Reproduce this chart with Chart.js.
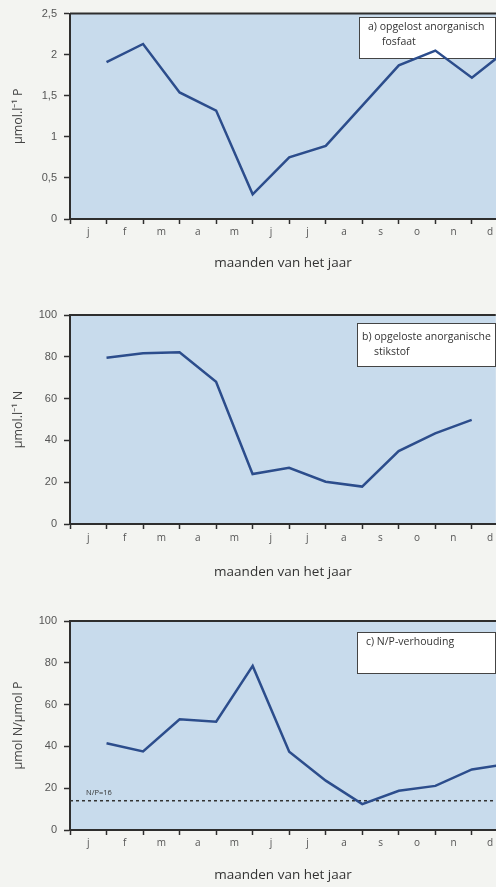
<!DOCTYPE html>
<html>
<head>
<meta charset="utf-8">
<script src="https://cdn.jsdelivr.net/npm/chart.js@4.4.0/dist/chart.umd.min.js"></script>
<style>
html,body{margin:0;padding:0;background:#f3f4f1;width:496px;height:887px;overflow:hidden}
.wrap{position:absolute;left:0;width:496px}
canvas{display:block}
</style>
</head>
<body>
<div class="wrap" style="top:0px;height:285px"><canvas id="c1" width="496" height="285"></canvas></div>
<div class="wrap" style="top:295px;height:295px"><canvas id="c2" width="496" height="295"></canvas></div>
<div class="wrap" style="top:600px;height:287px"><canvas id="c3" width="496" height="287"></canvas></div>
<script>
// ---- data ----
const months = ['j','f','m','a','m','j','j','a','s','o','n','d'];
const sampleMonth = [1,2,3,4,5,6,7,8,9,10,11,12];           // samples at month boundaries
const phosphate = [1.91, 2.13, 1.54, 1.32, 0.30, 0.75, 0.89, 1.38, 1.87, 2.05, 1.72, 2.07]; // µmol/l P
const nitrogen  = [79.6, 81.7, 82.2, 68.1, 23.9, 26.9, 20.2, 17.9, 34.9, 43.4, 49.8];      // µmol/l N
const npRatio   = [41.5, 37.6, 53.0, 51.8, 78.5, 37.5, 23.6, 12.4, 18.8, 21.1, 29.0, 31.7]; // N/P
const npRefLevel = 14;      // dashed "N/P=16" reference line as drawn
const pTicks = [0, 0.5, 1, 1.5, 2, 2.5];
const nTicks = [0, 20, 40, 60, 80, 100];
const ratioTicks = [0, 20, 40, 60, 80, 100];
const xTitleText = 'maanden van het jaar';

// ---- styling ----
const PLOT_BG = '#c8dbec';
const LINE = '#2c4d8c';
const AXIS = '#2e2e2e';
const FONT = "'Open Sans', sans-serif";
const X_MAX = 11.66;

const xTickPositions = months.flatMap((m, i) => [i, i + 0.5]);

const framePlugin = {
  id: 'frame',
  beforeDraw(chart, args, opts) {
    const {ctx, chartArea: a} = chart;
    ctx.save();
    ctx.fillStyle = PLOT_BG;
    ctx.fillRect(a.left, a.top, a.right - a.left, a.bottom - a.top);
    ctx.restore();
  },
  beforeDatasetsDraw(chart, args, opts) {
    const {ctx, chartArea: a} = chart;
    ctx.save();
    ctx.strokeStyle = AXIS;
    ctx.lineWidth = 2;
    ctx.beginPath();
    ctx.moveTo(a.left, a.top);
    ctx.lineTo(a.right, a.top);
    ctx.stroke();
    const b = opts.box;
    if (b) {
      ctx.fillStyle = '#ffffff';
      ctx.fillRect(b.x, b.y, b.w, b.h);
      ctx.strokeStyle = '#444';
      ctx.lineWidth = 1;
      ctx.strokeRect(b.x + 0.5, b.y + 0.5, b.w, b.h);
      ctx.fillStyle = '#333';
      ctx.font = "10.5px " + FONT;
      ctx.textBaseline = 'middle';
      ctx.textAlign = 'left';
      b.lines.forEach(l => ctx.fillText(l.t, l.x, l.y));
    }
    if (opts.note) {
      ctx.fillStyle = '#333';
      ctx.font = "7.5px " + FONT;
      ctx.textBaseline = 'middle';
      ctx.textAlign = 'left';
      ctx.fillText(opts.note.t, opts.note.x, opts.note.y);
    }
    ctx.restore();
  }
};

function buildChart(id, c) {
  const datasets = [];
  if (c.refLevel !== undefined) {
    datasets.push({
      data: [{x: 0, y: c.refLevel}, {x: 12, y: c.refLevel}],
      borderColor: '#333', borderWidth: 1.5, borderDash: [3, 3],
      pointRadius: 0, order: 2
    });
  }
  datasets.push({
    data: c.series.map((v, i) => ({x: sampleMonth[i], y: v})),
    borderColor: LINE, borderWidth: 2.5, pointRadius: 0, tension: 0, order: 1
  });
  return new Chart(document.getElementById(id), {
    type: 'line',
    data: {datasets},
    plugins: [framePlugin],
    options: {
      responsive: false, animation: false, devicePixelRatio: 1,
      layout: {padding: {top: c.padTop, left: 0, right: 0, bottom: 0}},
      plugins: {legend: {display: false}, tooltip: {enabled: false},
        frame: {box: c.box, note: c.note}},
      scales: {
        x: {
          type: 'linear', min: 0, max: X_MAX,
          afterBuildTicks: s => { s.ticks = xTickPositions.map(v => ({value: v})); },
          afterFit: s => { s.height = c.xHeight; },
          grid: {drawOnChartArea: false, drawTicks: true, tickLength: 5, tickWidth: 1.5,
            tickColor: ctx => (ctx.tick && Number.isInteger(ctx.tick.value)) ? AXIS : 'rgba(0,0,0,0)'},
          border: {display: true, color: AXIS, width: 2},
          ticks: {autoSkip: false, maxRotation: 0, padding: c.xLabelPad, color: '#555',
            font: {family: FONT, size: 10},
            callback: v => Number.isInteger(v) ? '' : months[Math.floor(v)]},
          title: {display: true, text: xTitleText, color: '#333',
            font: {family: FONT, size: 13.5}, padding: {top: 0, bottom: c.xTitlePad}}
        },
        y: {
          min: 0, max: c.yTicks[c.yTicks.length - 1],
          afterBuildTicks: s => { s.ticks = c.yTicks.map(v => ({value: v})); },
          afterFit: s => { s.width = 70; },
          grid: {drawOnChartArea: false, drawTicks: true, tickLength: 6, tickWidth: 1.5, tickColor: AXIS},
          border: {display: true, color: AXIS, width: 2},
          ticks: {padding: 7, color: '#555', font: {family: "'Liberation Sans', Arial, sans-serif", size: 11},
            callback: v => String(v).replace('.', ',')},
          title: {display: true, text: c.yTitle, color: '#444',
            font: {family: FONT, size: 12.5}, padding: {top: 10.5, bottom: 0}}
        }
      }
    }
  });
}

buildChart('c1', {
  series: phosphate, yTicks: pTicks, yTitle: 'µmol.l⁻¹ P',
  padTop: 10, xHeight: 66, xLabelPad: 2, xTitlePad: 14,
  box: {x: 359, y: 17, w: 136, h: 41, lines: [
    {t: 'a) opgelost anorganisch', x: 368, y: 27},
    {t: 'fosfaat', x: 382, y: 42}]}
});
buildChart('c2', {
  series: nitrogen, yTicks: nTicks, yTitle: 'µmol.l⁻¹ N',
  padTop: 20, xHeight: 66, xLabelPad: 3, xTitlePad: 10,
  box: {x: 357, y: 28, w: 138, h: 43, lines: [
    {t: 'b) opgeloste anorganische', x: 362, y: 42},
    {t: 'stikstof', x: 374, y: 57}]}
});
buildChart('c3', {
  series: npRatio, yTicks: ratioTicks, yTitle: 'µmol N/µmol P',
  padTop: 21, xHeight: 57, xLabelPad: 2, xTitlePad: 4, refLevel: npRefLevel,
  box: {x: 357, y: 32, w: 138, h: 41, lines: [
    {t: 'c) N/P-verhouding', x: 366, y: 42}]},
  note: {t: 'N/P=16', x: 86, y: 193}
});
</script>
</body>
</html>
